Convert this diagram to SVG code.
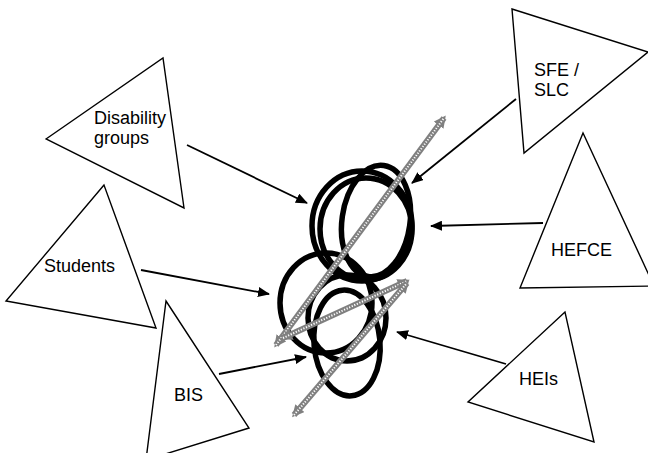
<svg xmlns="http://www.w3.org/2000/svg" width="648" height="453" viewBox="0 0 648 453">
<style>
.tri{fill:#fff;stroke:#000;stroke-width:1.4;stroke-linejoin:miter}
.lbl{font-family:"Liberation Sans",Arial,sans-serif;font-size:18px;fill:#000}
.con{stroke:#000;stroke-width:1.8;fill:none}
.ring{fill:none;stroke:#000;stroke-width:5.5}
.gb{stroke:#808080;stroke-width:6;fill:none}
.gw{stroke:#fff;stroke-width:2;stroke-dasharray:1.2 1.6;fill:none}
</style>
<defs>
<marker id="ah" markerWidth="12" markerHeight="10" refX="11" refY="5" orient="auto" markerUnits="userSpaceOnUse">
<path d="M0,0 L12,5 L0,10 Z" fill="#000"/>
</marker>
<marker id="gh" markerWidth="12" markerHeight="12" refX="9" refY="6" orient="auto-start-reverse" markerUnits="userSpaceOnUse">
<path d="M0,0 L12,6 L0,12 Z" fill="#808080"/>
</marker>
</defs>
<rect width="648" height="453" fill="#fff"/>

<g id="disability">
<polygon class="tri" points="46,139 163,58 184,208"/>
<text class="lbl" x="94" y="124">Disability</text>
<text class="lbl" x="94" y="144">groups</text>
</g>
<g id="students">
<polygon class="tri" points="104,185 6,301 156,328"/>
<text class="lbl" x="44" y="272">Students</text>
</g>
<g id="bis">
<polygon class="tri" points="166,301 249,428 146,460"/>
<text class="lbl" x="174" y="401">BIS</text>
</g>
<g id="sfe">
<polygon class="tri" points="512,9 648,52 524,153"/>
<text class="lbl" x="534" y="76">SFE /</text>
<text class="lbl" x="534" y="96">SLC</text>
</g>
<g id="hefce">
<polygon class="tri" points="583,133 520,288 654,286"/>
<text class="lbl" x="551" y="256">HEFCE</text>
</g>
<g id="heis">
<polygon class="tri" points="565,312 468,402 594,442"/>
<text class="lbl" x="519" y="385">HEIs</text>
</g>

<g id="rings">
<ellipse class="ring" cx="362" cy="226" rx="50" ry="55"/>
<ellipse class="ring" cx="366" cy="229" rx="46" ry="51"/>
<ellipse class="ring" cx="376" cy="221" rx="34" ry="56" transform="rotate(8 376 221)"/>
<ellipse class="ring" cx="326" cy="303" rx="46" ry="50"/>
<ellipse class="ring" cx="347" cy="318" rx="39" ry="43"/>
<ellipse class="ring" cx="347" cy="343" rx="33" ry="53" transform="rotate(-5 347 343)"/>
</g>

<g id="connectors">
<line class="con" x1="187" y1="145" x2="307" y2="203" marker-end="url(#ah)"/>
<line class="con" x1="141" y1="270" x2="269" y2="294" marker-end="url(#ah)"/>
<line class="con" x1="219" y1="374" x2="306" y2="357" marker-end="url(#ah)"/>
<line class="con" x1="516" y1="99" x2="412" y2="183" marker-end="url(#ah)"/>
<line class="con" x1="543" y1="223" x2="431" y2="226" marker-end="url(#ah)"/>
<line class="con" x1="506" y1="364" x2="397" y2="332" marker-end="url(#ah)"/>

<line class="gb" x1="276" y1="345" x2="444" y2="118" marker-start="url(#gh)" marker-end="url(#gh)"/>
<line class="gw" x1="276" y1="345" x2="444" y2="118"/>
<line class="gb" x1="283" y1="338" x2="407" y2="281" marker-start="url(#gh)" marker-end="url(#gh)"/>
<line class="gw" x1="283" y1="338" x2="407" y2="281"/>
<line class="gb" x1="294" y1="415" x2="407" y2="283" marker-start="url(#gh)" marker-end="url(#gh)"/>
<line class="gw" x1="294" y1="415" x2="407" y2="283"/>
</g>
</svg>
